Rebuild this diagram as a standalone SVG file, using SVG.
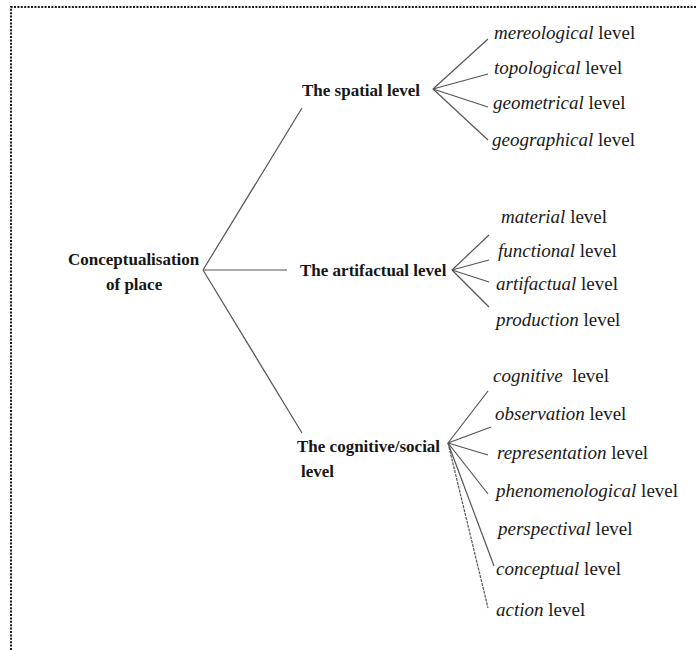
<svg xmlns="http://www.w3.org/2000/svg" width="696" height="650" viewBox="0 0 696 650">
<style>
.b{font-family:"Liberation Serif","Times New Roman",serif;font-weight:bold;font-size:17px;fill:#161616}
.t{font-family:"Liberation Serif","Times New Roman",serif;font-size:19px;fill:#1a1a1a}
.i{font-style:italic}
.c line{stroke:#555;stroke-width:1.2;fill:none}
.frame{stroke:#1a1a1a;stroke-width:2;stroke-dasharray:2 1.4;fill:none}
</style>
<rect width="696" height="650" fill="#fff"/>
<path class="frame" d="M11,650 V7 H696"/>
<g class="c" id="connectors">
<line x1="203" y1="270" x2="302" y2="108"/>
<line x1="203" y1="270" x2="287" y2="270"/>
<line x1="203" y1="270" x2="302" y2="433"/>
<line x1="433" y1="89" x2="488" y2="39"/>
<line x1="433" y1="89" x2="488" y2="74"/>
<line x1="433" y1="89" x2="488" y2="107"/>
<line x1="433" y1="89" x2="488" y2="140"/>
<line x1="452" y1="270" x2="489" y2="235"/>
<line x1="452" y1="270" x2="489" y2="260"/>
<line x1="452" y1="270" x2="489" y2="282"/>
<line x1="452" y1="270" x2="489" y2="307"/>
<line x1="448" y1="443" x2="488" y2="391"/>
<line x1="448" y1="443" x2="491" y2="427"/>
<line x1="448" y1="443" x2="488" y2="455"/>
<line x1="448" y1="443" x2="488" y2="494"/>
<line x1="448" y1="443" x2="494" y2="566"/>
<line x1="448" y1="443" x2="488" y2="608" stroke-dasharray="3 1"/>
</g>
<g id="root"><text class="b" x="68" y="265">Conceptualisation</text><text class="b" x="106" y="290">of place</text></g>
<g id="spatial"><text class="b" x="302" y="96">The spatial level</text></g>
<g id="artifactual"><text class="b" x="300" y="276">The artifactual level</text></g>
<g id="cognitive"><text class="b" x="297" y="452">The cognitive/social</text><text class="b" x="301" y="477">level</text></g>
<g id="mereological"><text class="t" x="494" y="39"><tspan class="i">mereological</tspan> level</text></g>
<g id="topological"><text class="t" x="494" y="74"><tspan class="i">topological</tspan> level</text></g>
<g id="geometrical"><text class="t" x="493" y="109"><tspan class="i">geometrical</tspan> level</text></g>
<g id="geographical"><text class="t" x="492" y="146"><tspan class="i">geographical</tspan> level</text></g>
<g id="material"><text class="t" x="501" y="223"><tspan class="i">material</tspan> level</text></g>
<g id="functional"><text class="t" x="498" y="257"><tspan class="i">functional</tspan> level</text></g>
<g id="artifactual-l"><text class="t" x="496" y="290"><tspan class="i">artifactual</tspan> level</text></g>
<g id="production"><text class="t" x="496" y="326"><tspan class="i">production</tspan> level</text></g>
<g id="cognitive-l"><text class="t" x="493" y="382" xml:space="preserve"><tspan class="i">cognitive</tspan>  level</text></g>
<g id="observation"><text class="t" x="495" y="420"><tspan class="i">observation</tspan> level</text></g>
<g id="representation"><text class="t" x="497" y="459"><tspan class="i">representation</tspan> level</text></g>
<g id="phenomenological"><text class="t" x="496" y="497"><tspan class="i">phenomenological</tspan> level</text></g>
<g id="perspectival"><text class="t" x="498" y="535"><tspan class="i">perspectival</tspan> level</text></g>
<g id="conceptual"><text class="t" x="496" y="575"><tspan class="i">conceptual</tspan> level</text></g>
<g id="action"><text class="t" x="496" y="616"><tspan class="i">action</tspan> level</text></g>
</svg>
